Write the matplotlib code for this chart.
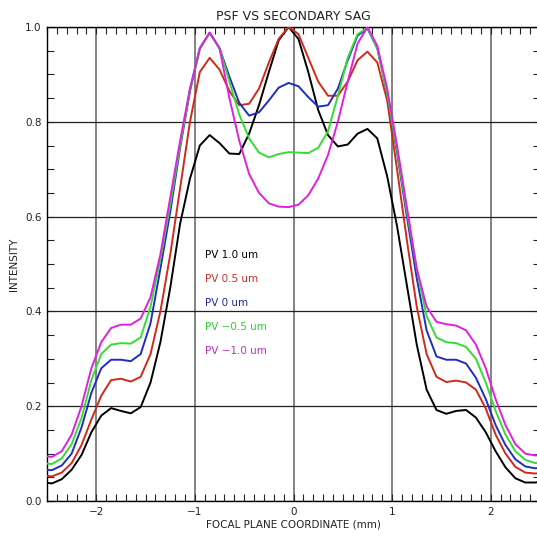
import numpy as np
import matplotlib
matplotlib.use("Agg")
import matplotlib.pyplot as plt
from matplotlib.ticker import MultipleLocator

# sample positions (mm), 0.1 apart, centred on the PSF axis at -0.05
X = np.round(np.arange(-2.55, 2.6, 0.1), 2)

pv_1p0 = [0.040, 0.037, 0.046, 0.066, 0.097, 0.145, 0.180, 0.196, 0.190, 0.185,
          0.198, 0.250, 0.335, 0.450, 0.585, 0.680, 0.750, 0.772, 0.755, 0.733,
          0.732, 0.775, 0.835, 0.905, 0.972, 1.000, 0.975, 0.905, 0.825, 0.772,
          0.748, 0.752, 0.775, 0.785, 0.765, 0.685, 0.580, 0.455, 0.330, 0.235,
          0.192, 0.184, 0.190, 0.192, 0.176, 0.145, 0.105, 0.071, 0.048, 0.039,
          0.039, 0.042]
pv_0p5 = [0.054, 0.052, 0.060, 0.080, 0.118, 0.172, 0.222, 0.255, 0.258, 0.252,
          0.262, 0.310, 0.400, 0.520, 0.660, 0.800, 0.905, 0.935, 0.910, 0.865,
          0.835, 0.838, 0.870, 0.925, 0.975, 1.000, 0.985, 0.935, 0.885, 0.855,
          0.855, 0.885, 0.930, 0.948, 0.925, 0.845, 0.700, 0.550, 0.410, 0.310,
          0.262, 0.251, 0.254, 0.250, 0.235, 0.195, 0.140, 0.100, 0.072, 0.060,
          0.058, 0.060]
pv_0 = [0.066, 0.065, 0.075, 0.100, 0.155, 0.228, 0.280, 0.298, 0.298, 0.295,
        0.310, 0.375, 0.490, 0.610, 0.745, 0.865, 0.955, 0.988, 0.955, 0.895,
        0.840, 0.813, 0.820, 0.845, 0.872, 0.882, 0.875, 0.852, 0.832, 0.835,
        0.870, 0.930, 0.982, 0.997, 0.955, 0.860, 0.735, 0.600, 0.470, 0.360,
        0.305, 0.298, 0.298, 0.290, 0.260, 0.215, 0.160, 0.118, 0.088, 0.073,
        0.069, 0.070]
pv_m0p5 = [0.080, 0.078, 0.090, 0.120, 0.175, 0.255, 0.310, 0.330, 0.333, 0.332,
           0.345, 0.410, 0.510, 0.625, 0.750, 0.868, 0.955, 0.988, 0.955, 0.885,
           0.815, 0.765, 0.735, 0.725, 0.732, 0.736, 0.735, 0.734, 0.745, 0.780,
           0.855, 0.935, 0.985, 0.998, 0.955, 0.860, 0.740, 0.610, 0.490, 0.390,
           0.345, 0.335, 0.333, 0.325, 0.300, 0.250, 0.190, 0.140, 0.105, 0.087,
           0.080, 0.080]
pv_m1p0 = [0.095, 0.093, 0.105, 0.140, 0.200, 0.280, 0.335, 0.365, 0.372, 0.372,
           0.385, 0.430, 0.520, 0.640, 0.760, 0.870, 0.955, 0.988, 0.955, 0.850,
           0.760, 0.690, 0.650, 0.628, 0.621, 0.620, 0.625, 0.645, 0.680, 0.730,
           0.800, 0.885, 0.965, 1.000, 0.960, 0.870, 0.750, 0.620, 0.490, 0.410,
           0.378, 0.373, 0.370, 0.360, 0.330, 0.280, 0.215, 0.160, 0.120, 0.100,
           0.096, 0.097]

labels = ["PV 1.0 um", "PV 0.5 um", "PV 0 um", "PV \u22120.5 um", "PV \u22121.0 um"]
colors = ["#000000", "#d02a1a", "#1f2ec0", "#33dd33", "#e020e0"]
text_colors = ["#000000", "#c83030", "#202a9a", "#33cc33", "#c030c0"]

fig = plt.figure(figsize=(5.37, 5.36), dpi=100)
ax = fig.add_axes([47 / 537, 1 - 501 / 536, 493 / 537, 474 / 536])

for ys, c in zip([pv_1p0, pv_0p5, pv_0, pv_m0p5, pv_m1p0], colors):
    ax.plot(X, ys, color=c, lw=1.4, zorder=3, solid_joinstyle="round")

ax.set_xlim(-2.5, 2.5)
ax.set_ylim(0.0, 1.0)
ax.xaxis.set_major_locator(MultipleLocator(1))
ax.xaxis.set_minor_locator(MultipleLocator(0.1))
ax.yaxis.set_major_locator(MultipleLocator(0.2))
ax.yaxis.set_minor_locator(MultipleLocator(0.05))
ax.yaxis.set_major_formatter(lambda v, p: f"{v:.1f}")

ax.tick_params(which="both", direction="in", top=True, right=True,
               labelsize=7.5, colors="#222222", pad=4)
ax.tick_params(which="both", length=5, width=0.8)

ax.grid(axis="x", which="major", color="#7a7a7a", lw=1.3, zorder=1)
ax.grid(axis="y", which="major", color="#202020", lw=0.9, zorder=1)
for s in ax.spines.values():
    s.set_linewidth(1.0)

ax.set_title("PSF VS SECONDARY SAG", fontsize=9, color="#222222", pad=5)
ax.set_xlabel("FOCAL PLANE COORDINATE (mm)", fontsize=7.5, color="#222222", labelpad=2)
ax.set_ylabel("INTENSITY", fontsize=7.5, color="#222222", labelpad=4)

for i, (lab, c) in enumerate(zip(labels, text_colors)):
    ax.text(-0.9, 0.518 - i * 0.0505, lab, color=c, fontsize=7.5, va="center", zorder=4)

fig.savefig("out.png", dpi=100)
